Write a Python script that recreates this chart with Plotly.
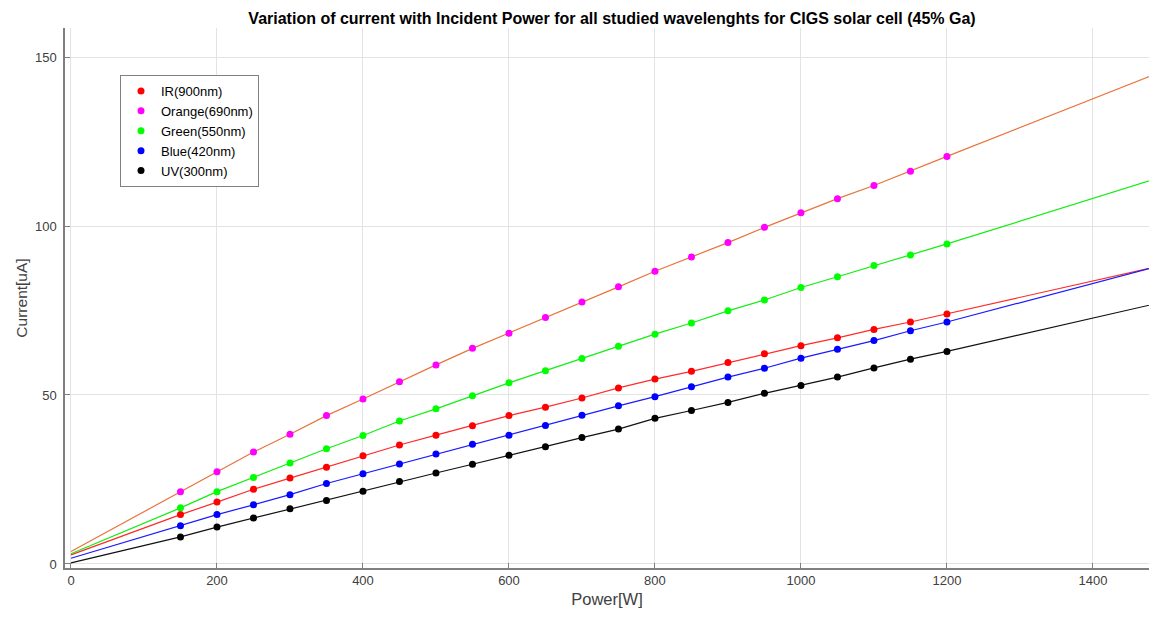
import plotly.graph_objects as go

power = [150, 200, 250, 300, 350, 400, 450, 500, 550, 600, 650, 700, 750,
         800, 850, 900, 950, 1000, 1050, 1100, 1150, 1200]

ir = [14.6, 18.3, 22.1, 25.4, 28.6, 32.0, 35.2, 38.1, 40.9, 43.9, 46.4, 49.1,
      52.1, 54.7, 57.0, 59.6, 62.2, 64.6, 66.9, 69.4, 71.6, 74.0]
orange = [21.4, 27.3, 33.1, 38.4, 43.9, 48.8, 53.9, 58.9, 63.8, 68.3, 72.9,
          77.5, 82.0, 86.6, 90.8, 95.1, 99.6, 103.9, 108.1, 112.0, 116.2, 120.6]
green = [16.6, 21.4, 25.6, 29.9, 34.1, 38.0, 42.3, 45.9, 49.8, 53.6, 57.2,
         60.8, 64.4, 68.0, 71.3, 74.9, 78.1, 81.8, 85.0, 88.3, 91.4, 94.7]
blue = [11.3, 14.6, 17.5, 20.5, 23.8, 26.7, 29.6, 32.5, 35.4, 38.1, 41.0,
        44.0, 46.8, 49.5, 52.4, 55.3, 57.9, 60.9, 63.5, 66.1, 69.0, 71.6]
uv = [8.0, 10.9, 13.6, 16.3, 18.8, 21.5, 24.4, 26.9, 29.5, 32.2, 34.7, 37.4,
      39.9, 43.1, 45.4, 47.8, 50.5, 52.8, 55.3, 58.0, 60.6, 62.9]

# extrapolated fit-line ends (at power 0 and power 1500)
line_power_ends = [0, 1500]
ir_ends = [2.7, 88.6]
orange_ends = [3.7, 146.2]
green_ends = [3.0, 114.9]
blue_ends = [1.7, 88.7]
uv_ends = [0.3, 77.7]

names = ["IR(900nm)", "Orange(690nm)", "Green(550nm)", "Blue(420nm)", "UV(300nm)"]
series = [ir, orange, green, blue, uv]
ends = [ir_ends, orange_ends, green_ends, blue_ends, uv_ends]
line_colors = ["#ff2a2a", "#e8743b", "#11ee11", "#1a1aff", "#111111"]
marker_colors = ["#ff0000", "#ff00ff", "#00ff00", "#0000ff", "#000000"]

fig = go.Figure()
for s, e, lc in zip(series, ends, line_colors):
    xs = [line_power_ends[0]] + power + [line_power_ends[1]]
    ys = [e[0]] + s + [e[1]]
    fig.add_trace(go.Scatter(x=xs, y=ys, mode="lines",
                             line=dict(color=lc, width=1.2),
                             showlegend=False, hoverinfo="skip"))
for s, n, mc in zip(series, names, marker_colors):
    fig.add_trace(go.Scatter(x=power, y=s, mode="markers", name=n,
                             marker=dict(color=mc, size=7)))

axis_common = dict(
    showline=True, linecolor="#7f7f7f", linewidth=1.5,
    ticks="inside", ticklen=5, tickcolor="#7f7f7f",
    showgrid=True, gridcolor="#e3e3e3", gridwidth=1,
    zeroline=False, mirror=False, automargin=False,
    tickfont=dict(family="Liberation Sans, Arial", size=13, color="#404040"),
)

W, H = 1141, 606
ML, MT, MB = 57, 20, 46
PW = W - ML
PH = H - MT - MB

fig.update_layout(
    width=W, height=H,
    margin=dict(l=ML, r=0, t=MT, b=MB, autoexpand=False),
    paper_bgcolor="white", plot_bgcolor="white",
    title=dict(text="<b>Variation of current with Incident Power for all studied wavelenghts for CIGS solar cell (45% Ga)</b>",
               x=604 / W, xanchor="center", y=1 - 10 / H, yanchor="middle",
               font=dict(family="Liberation Sans, Arial", size=16, color="#000000")),
    xaxis=dict(range=[-8.2, 1476.8], tickvals=[0, 200, 400, 600, 800, 1000, 1200, 1400],
               title=dict(text="Power[W]", standoff=6,
                          font=dict(family="Liberation Sans, Arial", size=16.5, color="#404040")),
               **axis_common),
    yaxis=dict(range=[-1.2, 158.6], tickvals=[0, 50, 100, 150], ticklabelstandoff=4,
               title=dict(text="Current[uA]", standoff=4,
                          font=dict(family="Liberation Sans, Arial", size=15.5, color="#404040")),
               **axis_common),
    legend=dict(x=(112 - ML) / PW, y=1 - (67 - MT) / PH, xanchor="left", yanchor="top",
                bgcolor="white", bordercolor="#808080", borderwidth=1,
                font=dict(family="Liberation Sans, Arial", size=13, color="#000000"),
                tracegroupgap=0, itemwidth=30),
)

fig.write_html("out.html")
